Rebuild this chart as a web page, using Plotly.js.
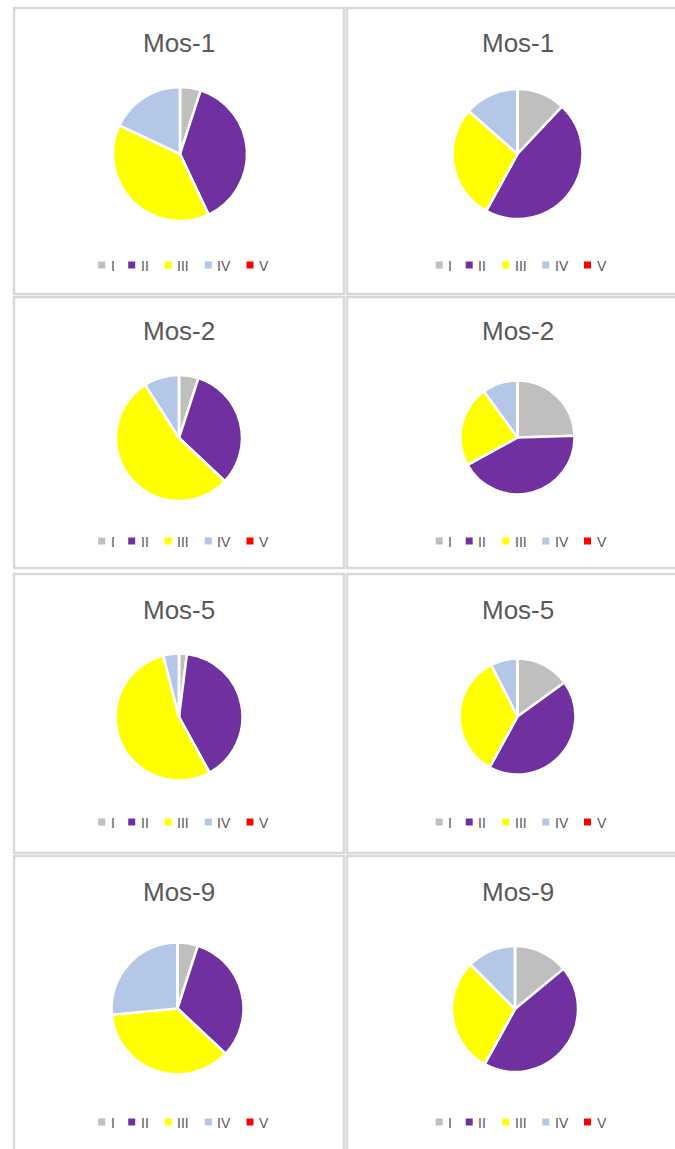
<!DOCTYPE html>
<html>
<head>
<meta charset="utf-8">
<script src="https://cdn.plot.ly/plotly-3.0.1.min.js"></script>
<style>
  html, body { margin: 0; padding: 0; background: #ffffff; }
  #chart { width: 675px; height: 1149px; }
</style>
</head>
<body>
<div id="chart"></div>
<script>
// ---- data ----
var categories = ['I', 'II', 'III', 'IV', 'V'];
var sliceColors = ['#bfbfbf', '#7030a0', '#ffff00', '#b4c7e7', '#ff0000'];

var mos1Left  = [5, 38, 39, 18, 0];
var mos1Right = [12, 46, 28.5, 13.5, 0];
var mos2Left  = [5, 32, 54, 9, 0];
var mos2Right = [24.5, 42.5, 23, 10, 0];
var mos5Left  = [2, 40, 54, 4, 0];
var mos5Right = [15, 43, 34.5, 7.5, 0];
var mos9Left  = [5, 32, 36.5, 26.5, 0];
var mos9Right = [14, 44, 29.5, 12.5, 0];

var panelTitles = ['Mos-1', 'Mos-1', 'Mos-2', 'Mos-2', 'Mos-5', 'Mos-5', 'Mos-9', 'Mos-9'];
var panelValues = [mos1Left, mos1Right, mos2Left, mos2Right, mos5Left, mos5Right, mos9Left, mos9Right];

// ---- layout geometry (pixels) ----
var W = 675, H = 1149;
function px(x) { return x / W; }
function py(y) { return 1 - y / H; }

var colX = [[14, 344], [347, 692]];
var rowY = [[8, 294], [297, 568], [574, 853], [856, 1162]];
// pie centres and radii
var pieGeom = [
  [180, 154, 67], [517.5, 154, 65],
  [179, 438, 63], [517.5, 437.5, 57],
  [179, 717, 63.5], [517.5, 716.5, 58],
  [177.5, 1008.5, 66], [515, 1009, 63]
];
var titleY = [43, 331, 610, 892];
var legendY = [265, 541, 822, 1122];
var legendMarkX = [101.7, 131.7, 168.3, 208.3, 250];
var colOffset = [0, 337.5];

var traces = [];
var shapes = [];
var annotations = [];
var txtColor = '#595959';
var fontFam = '"Liberation Sans", Arial, sans-serif';

for (var p = 0; p < 8; p++) {
  var row = Math.floor(p / 2), col = p % 2;
  var g = pieGeom[p];
  traces.push({
    type: 'pie',
    labels: categories,
    values: panelValues[p],
    sort: false,
    direction: 'clockwise',
    rotation: 0,
    textinfo: 'none',
    hoverinfo: 'label+value',
    showlegend: false,
    marker: { colors: sliceColors, line: { color: '#ffffff', width: 2.5 } },
    domain: {
      x: [px(g[0] - g[2]), px(g[0] + g[2])],
      y: [py(g[1] + g[2]), py(g[1] - g[2])]
    }
  });

  // panel border
  shapes.push({
    type: 'rect', xref: 'paper', yref: 'paper',
    x0: px(colX[col][0]), x1: px(colX[col][1]),
    y0: py(rowY[row][1]), y1: py(rowY[row][0]),
    line: { color: '#d9d9d9', width: 2.5 }, fillcolor: 'rgba(0,0,0,0)', layer: 'below'
  });

  // title
  annotations.push({
    xref: 'paper', yref: 'paper',
    x: px((colX[col][0] + (col === 0 ? colX[col][1] : 688)) / 2), y: py(titleY[row]),
    xanchor: 'center', yanchor: 'middle', showarrow: false,
    text: panelTitles[p],
    font: { family: fontFam, size: 26, color: txtColor }
  });

  // legend (built from categories and colours)
  for (var k = 0; k < categories.length; k++) {
    var mx = legendMarkX[k] + colOffset[col];
    var my = legendY[row];
    shapes.push({
      type: 'rect', xref: 'paper', yref: 'paper',
      x0: px(mx - 3.5), x1: px(mx + 3.5),
      y0: py(my + 3.5), y1: py(my - 3.5),
      line: { width: 0 }, fillcolor: sliceColors[k]
    });
    annotations.push({
      xref: 'paper', yref: 'paper',
      x: px(mx + 7), y: py(my + 0.5),
      xanchor: 'left', yanchor: 'middle', showarrow: false,
      text: categories[k],
      font: { family: fontFam, size: 14, color: txtColor }
    });
  }
}

var layout = {
  width: W, height: H,
  margin: { l: 0, r: 0, t: 0, b: 0 },
  paper_bgcolor: '#ffffff',
  plot_bgcolor: '#ffffff',
  showlegend: false,
  shapes: shapes,
  annotations: annotations
};

Plotly.newPlot('chart', traces, layout, { displayModeBar: false, staticPlot: true });
</script>
</body>
</html>
